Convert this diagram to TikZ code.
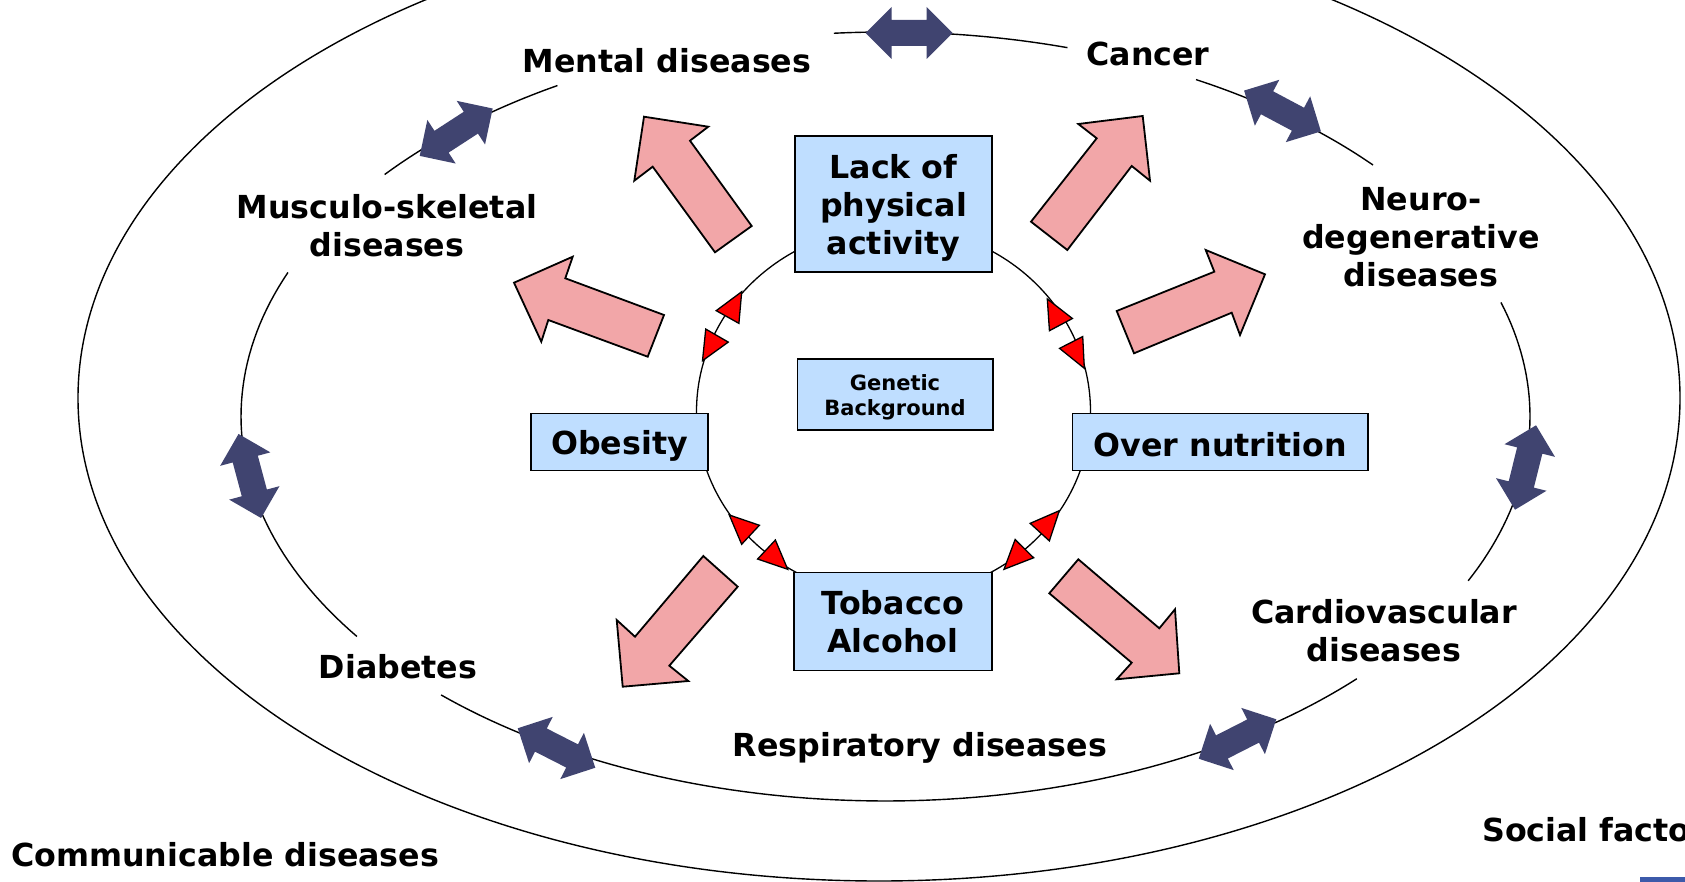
\documentclass[tikz,border=0pt]{standalone}
\usepackage{fontspec}
\setmainfont{DejaVu Sans}
\usetikzlibrary{calc}
\definecolor{navy}{RGB}{64,68,112}
\definecolor{pinkfill}{RGB}{242,166,168}
\definecolor{boxblue}{RGB}{191,222,255}
\definecolor{barblue}{RGB}{60,90,170}
\begin{document}
\begin{tikzpicture}[x=1pt,y=-1pt,
  lbl/.style={font=\fontsize{31.7}{38}\selectfont\bfseries, align=center, inner sep=0pt},
  box/.style={draw=black, line width=1.5pt, fill=boxblue, inner sep=0pt},
  boxtxt/.style={lbl},
  pinkarrow/.style={fill=pinkfill, draw=black, line width=1.8pt, line join=miter},
  ring/.style={draw=black, line width=1.4pt},
  navyarrow/.pic={\fill[navy] (-43.5,0) -- (-17.5,26) -- (-17.5,13) -- (17.5,13) -- (17.5,26) -- (43.5,0) -- (17.5,-26) -- (17.5,-13) -- (-17.5,-13) -- (-17.5,-26) -- cycle;},
  redtip/.pic={\filldraw[fill=red, draw=black, line width=1.3pt, line join=miter] (0,0) -- (-29,13) -- (-29,-13) -- cycle;}
]
\useasboundingbox (0,0) rectangle (1685,882);
\fill[white] (0,0) rectangle (1685,882);
\clip (0,0) rectangle (1685,882);

% outer ring
\draw[ring] (879,398) ellipse [x radius=801, y radius=483];

% middle ring (broken by labels)
\draw[ring] plot[domain=-94.6:-73.6, samples=30] ({885.5+644.5*cos(\x)}, {416.5+384.5*sin(\x)});
\draw[ring] plot[domain=-61.2:-40.85, samples=30] ({885.5+644.5*cos(\x)}, {416.5+384.5*sin(\x)});
\draw[ring] plot[domain=-17.25:25.3, samples=40] ({885.5+644.5*cos(\x)}, {416.5+384.5*sin(\x)});
\draw[ring] plot[domain=43:133.6, samples=80] ({885.5+644.5*cos(\x)}, {416.5+384.5*sin(\x)});
\draw[ring] plot[domain=145.1:202, samples=50] ({885.5+644.5*cos(\x)}, {416.5+384.5*sin(\x)});
\draw[ring] plot[domain=219:239.4, samples=30] ({885.5+644.5*cos(\x)}, {416.5+384.5*sin(\x)});

% navy double arrows
\pic[rotate=0]   (na1) at (909,33)      {navyarrow};
\pic[rotate=-28] (na2) at (1282.5,111)  {navyarrow};
\pic[rotate=76]  (na3) at (1525.5,467.5){navyarrow};
\pic[rotate=27]  (na4) at (1237.5,739)  {navyarrow};
\pic[rotate=-27] (na5) at (556.5,748)   {navyarrow};
\pic[rotate=105] (na6) at (249.8,476)   {navyarrow};
\pic[rotate=33]  (na7) at (456.2,132.2) {navyarrow};

% inner ring
\draw[ring, line width=1.3pt] (893.5,411.5) ellipse [x radius=197, y radius=185];

% red arrow tips
\pic[rotate=60.8]  (rt1) at (741.7,291.7) {redtip};
\pic[rotate=-120]  (rt2) at (702.5,360.7) {redtip};
\pic[rotate=137]   (rt3) at (729.3,515)   {redtip};
\pic[rotate=-43]   (rt4) at (787.7,569.3) {redtip};
\pic[rotate=47.6]  (rt5) at (1059.3,510.7){redtip};
\pic[rotate=-134.6](rt6) at (1004,569.3)  {redtip};
\pic[rotate=118]   (rt7) at (1047.3,299)  {redtip};
\pic[rotate=-63]   (rt8) at (1084.3,368.3){redtip};

% boxes
\node[box, minimum width=197pt, minimum height=136pt] (lack) at (893.5,204) {};
\node[boxtxt] (lack-t) at ($(lack.center)+(0,4)$) {Lack of\\physical\\activity};
\node[box, minimum width=195.5pt, minimum height=71pt] (gen) at (895,394.4) {};
\node[boxtxt, font=\fontsize{21}{24.7}\selectfont\bfseries] (gen-t) at ($(gen.center)+(0,3)$) {Genetic\\Background};
\node[box, minimum width=177pt, minimum height=57pt] (obes) at (619.5,442.2) {};
\node[boxtxt] (obes-t) at ($(obes.center)+(0,4)$) {Obesity};
\node[box, minimum width=295.5pt, minimum height=57pt] (over) at (1220.2,442.2) {};
\node[boxtxt] (over-t) at ($(over.center)+(0,2)$) {Over nutrition};
\node[box, minimum width=198pt, minimum height=98pt] (tob) at (893,621.7) {};
\node[boxtxt] (tob-t) at (tob.center) {Tobacco\\Alcohol};

% pink block arrows
\draw[pinkarrow] (644,116.7) -- (708.3,126.7) -- (690,140.7) -- (751.7,226) -- (715,252.3) -- (652.7,166.7) -- (634.3,180.7) -- cycle;
\draw[pinkarrow] (514,282.7) -- (572.7,256.7) -- (565.3,278.3) -- (664,315) -- (647.7,356.7) -- (548.3,320) -- (541.3,341.7) -- cycle;
\draw[pinkarrow] (1142.7,116) -- (1078.3,124) -- (1096.7,138.3) -- (1031,221.7) -- (1067.3,250) -- (1131.7,166) -- (1150,180.7) -- cycle;
\draw[pinkarrow] (1265,274.3) -- (1205.7,250) -- (1214.3,271.7) -- (1116.7,311) -- (1134,353.3) -- (1231.7,312.7) -- (1240,335) -- cycle;
\draw[pinkarrow] (622.7,686.7) -- (616.7,620) -- (635,636.7) -- (703.3,556) -- (737.7,586.7) -- (669.3,665.7) -- (688.3,681) -- cycle;
\draw[pinkarrow] (1179.3,673.3) -- (1175,609.3) -- (1159.3,628.3) -- (1078.3,559.3) -- (1049.3,593.3) -- (1131.7,662.7) -- (1116.7,679.3) -- cycle;

% labels
\node[lbl] (mental) at (667,61) {Mental diseases};
\node[lbl] (cancer) at (1148,54) {Cancer};
\node[lbl] (musc) at (387,226) {Musculo-skeletal\\diseases};
\node[lbl] (neuro) at (1421,237) {Neuro-\\degenerative\\diseases};
\node[lbl] (cardio) at (1384,631) {Cardiovascular\\diseases};
\node[lbl] (diab) at (398,667) {Diabetes};
\node[lbl] (resp) at (920,748) {Respiratory diseases};
\node[lbl, anchor=west] (comm) at (11,855) {Communicable diseases};
\node[lbl, anchor=west] (social) at (1482,830) {Social factors};

\fill[barblue] (1640,877) rectangle (1685,882);
\end{tikzpicture}
\end{document}
